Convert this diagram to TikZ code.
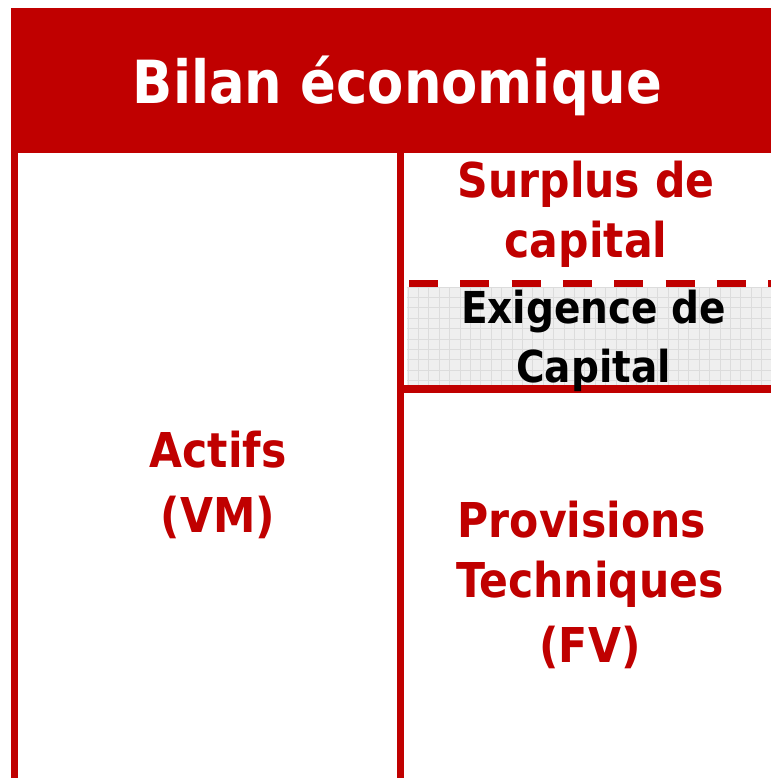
\documentclass[tikz,border=0pt]{standalone}
\usepackage{fontspec}
\setmainfont[FakeStretch=0.887]{DejaVu Sans}
\definecolor{bred}{HTML}{C00000}
\definecolor{gfill}{HTML}{EFEFEF}
\definecolor{gline}{HTML}{DCDCDC}
\begin{document}
\begin{tikzpicture}[x=1pt,y=-1pt,
  lbl/.style={inner sep=0pt, anchor=base, text=bred, font=\bfseries\fontsize{48}{58}\selectfont},
  blk/.style={inner sep=0pt, anchor=base, text=black, font=\bfseries\fontsize{44}{53}\selectfont},
  hdr/.style={inner sep=0pt, anchor=base, text=white, font=\bfseries\fontsize{59.5}{72}\selectfont},
  bar/.style={fill=bred}]
\useasboundingbox (0,0) rectangle (771,778);
\fill[white] (0,0) rectangle (771,778);
% header
\fill[bar] (11,8) rectangle (771,153);
% vertical bars
\fill[bar] (11,153) rectangle (18,778);
\fill[bar] (397,153) rectangle (404,778);
% grey grid area
\fill[gfill] (407,287) rectangle (771,385);
\begin{scope}
\clip (407,287) rectangle (771,385);
\foreach \i in {0,...,36} \draw[gline, line width=0.7pt] ({408+10.4*\i},287) -- ({408+10.4*\i},385);
\foreach \j in {0,...,10} \draw[gline, line width=0.7pt] (407,{287+10.4*\j}) -- (771,{287+10.4*\j});
\end{scope}
% dashed and solid separators
\draw[bred, line width=7pt, dash pattern=on 29pt off 22.3pt] (409,283.5) -- (771,283.5);
\fill[bar] (397,385) rectangle (771,393);
% texts
\node[hdr] (title) at (397.5,104) {Bilan économique};
\node[lbl] (surp1) at (586,197) {Surplus de};
\node[lbl] (surp2) at (586,257) {capital};
\node[blk] (exig1) at (593.5,323) {Exigence de};
\node[blk] (exig2) at (593.5,382) {Capital};
\node[lbl] (act1) at (218,467) {Actifs};
\node[lbl] (act2) at (218,532) {(VM)};
\node[lbl] (prov1) at (582,537) {Provisions};
\node[lbl] (prov2) at (590,597) {Techniques};
\node[lbl] (prov3) at (590,662) {(FV)};
\end{tikzpicture}
\end{document}
